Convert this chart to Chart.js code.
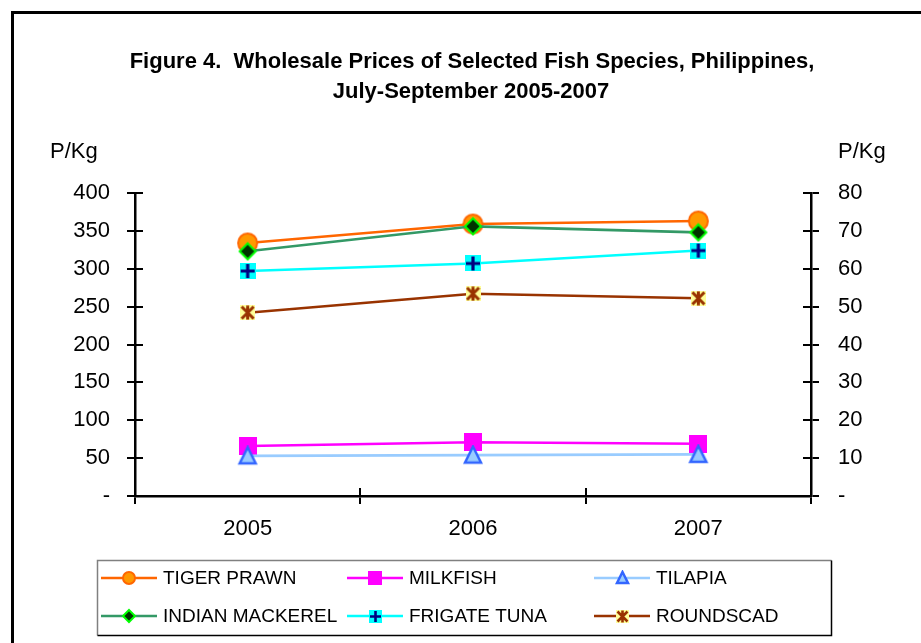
<!DOCTYPE html>
<html><head><meta charset="utf-8">
<script src="https://cdn.jsdelivr.net/npm/chart.js@4.4.0/dist/chart.umd.min.js"></script>
<style>html,body{margin:0;padding:0;background:#fff;}canvas{display:block;}</style>
</head><body>
<canvas id="c" width="921" height="643"></canvas>
<script>
// ---- data ----
const categories = ['2005', '2006', '2007'];
const tigerPrawn = [334, 359, 363];
const milkfish = [66, 71, 69];
const tilapia = [53, 54, 55];
const indianMackerel = [323, 356, 348];
const frigateTuna = [297, 307, 324];
const roundscad = [242, 267, 261];
const leftTickLabels = ['-', '50', '100', '150', '200', '250', '300', '350', '400'];
const rightTickLabels = ['-', '10', '20', '30', '40', '50', '60', '70', '80'];
const seriesNames = ['TIGER PRAWN', 'MILKFISH', 'TILAPIA', 'INDIAN MACKEREL', 'FRIGATE TUNA', 'ROUNDSCAD'];
const titleLines = ['Figure 4.  Wholesale Prices of Selected Fish Species, Philippines,', 'July-September 2005-2007'];
const axisUnit = 'P/Kg';

const FONT = '"Liberation Sans", Arial, Helvetica, sans-serif';

// ---- marker images ----
function mk(w, h, draw) {
  const c = document.createElement('canvas');
  c.width = w; c.height = h;
  const g = c.getContext('2d');
  draw(g, w / 2, h / 2);
  return c;
}
function circleMarker(r) {
  return mk(Math.ceil(2 * r + 4), Math.ceil(2 * r + 4), (g, cx, cy) => {
    g.beginPath(); g.arc(cx, cy, r, 0, Math.PI * 2);
    g.fillStyle = '#FF9900'; g.fill();
    g.lineWidth = 2; g.strokeStyle = '#FF6600'; g.stroke();
  });
}
function squareMarker(s) {
  return mk(s, s, (g) => { g.fillStyle = '#FF00FF'; g.fillRect(0, 0, s, s); });
}
function triangleMarker(w) {
  const h = Math.round(w * 0.95);
  return mk(w + 4, h + 4, (g, cx, cy) => {
    g.beginPath();
    g.moveTo(cx, cy - h / 2); g.lineTo(cx + w / 2 - 1, cy + h / 2 - 1); g.lineTo(cx - w / 2 + 1, cy + h / 2 - 1); g.closePath();
    g.fillStyle = '#99CCFF'; g.fill();
    g.lineWidth = 2.5; g.lineJoin = 'miter'; g.strokeStyle = '#3366FF'; g.stroke();
  });
}
function diamondMarker(w) {
  return mk(w + 4, w + 4, (g, cx, cy) => {
    const r = w / 2;
    g.beginPath(); g.moveTo(cx, cy - r); g.lineTo(cx + r, cy); g.lineTo(cx, cy + r); g.lineTo(cx - r, cy); g.closePath();
    g.fillStyle = '#003300'; g.fill();
    g.lineWidth = 2; g.strokeStyle = '#00FF00'; g.stroke();
  });
}
function crossMarker(s) {
  return mk(s, s, (g, cx, cy) => {
    g.fillStyle = '#00FFFF'; g.fillRect(0, 0, s, s);
    g.strokeStyle = '#000080'; g.lineWidth = Math.max(2, s / 5);
    g.beginPath(); g.moveTo(cx, 1); g.lineTo(cx, s - 1); g.moveTo(1, cy); g.lineTo(s - 1, cy); g.stroke();
  });
}
function starMarker(s) {
  return mk(s, s, (g, cx, cy) => {
    g.fillStyle = '#FFFF99'; g.fillRect(0, 0, s, s);
    g.strokeStyle = '#993300'; g.lineWidth = Math.max(2, s / 5);
    g.beginPath();
    g.moveTo(cx, 0.5); g.lineTo(cx, s - 0.5);
    g.moveTo(1.5, 1.5); g.lineTo(s - 1.5, s - 1.5);
    g.moveTo(s - 1.5, 1.5); g.lineTo(1.5, s - 1.5);
    g.stroke();
  });
}

const plotMarkers = [circleMarker(9.5), squareMarker(18), triangleMarker(18), diamondMarker(16), crossMarker(16), starMarker(15)];
const legendMarkers = [circleMarker(6), squareMarker(14), triangleMarker(13), diamondMarker(12), crossMarker(13), starMarker(13)];
const lineColors = ['#FF6600', '#FF00FF', '#99CCFF', '#339966', '#00FFFF', '#993300'];
const seriesData = [tigerPrawn, milkfish, tilapia, indianMackerel, frigateTuna, roundscad];

const datasets = seriesData.map((d, i) => ({
  label: seriesNames[i],
  data: d,
  borderColor: lineColors[i],
  backgroundColor: lineColors[i],
  borderWidth: 2.6,
  pointStyle: plotMarkers[i],
  pointRadius: 9,
  pointHoverRadius: 9,
  tension: 0,
  fill: false,
  yAxisID: 'y',
  order: seriesData.length - i
}));

const decor = {
  id: 'decor',
  beforeDraw(chart) {
    const ctx = chart.ctx;
    ctx.save();
    ctx.fillStyle = '#fff'; ctx.fillRect(0, 0, chart.width, chart.height);
    ctx.strokeStyle = '#000'; ctx.lineWidth = 3;
    ctx.beginPath(); ctx.moveTo(12.5, chart.height + 5); ctx.lineTo(12.5, 12.5); ctx.lineTo(chart.width + 5, 12.5); ctx.stroke();
    ctx.restore();
  },
  afterDraw(chart) {
    const ctx = chart.ctx, a = chart.chartArea;
    ctx.save();
    // title
    ctx.fillStyle = '#000';
    ctx.font = 'bold 22px ' + FONT;
    ctx.textAlign = 'center'; ctx.textBaseline = 'middle';
    ctx.fillText(titleLines[0], 472, 62);
    ctx.fillText(titleLines[1], 471, 92);
    // unit labels
    ctx.font = '22px ' + FONT;
    ctx.textAlign = 'left';
    ctx.fillText(axisUnit, 50, 152);
    ctx.fillText(axisUnit, 838, 152);
    // inner halves of tick marks
    ctx.strokeStyle = '#000'; ctx.lineWidth = 2;
    ctx.beginPath();
    const y = chart.scales.y, y2 = chart.scales.y2, x = chart.scales.x;
    y.ticks.forEach(t => { const p = Math.round(y.getPixelForValue(t.value)); ctx.moveTo(a.left, p); ctx.lineTo(a.left + 8, p); });
    y2.ticks.forEach(t => { const p = Math.round(y2.getPixelForValue(t.value)); ctx.moveTo(a.right, p); ctx.lineTo(a.right - 8, p); });
    const n = categories.length;
    for (let i = 0; i <= n; i++) {
      let p;
      if (i === 0) p = a.left; else if (i === n) p = a.right;
      else p = Math.round((x.getPixelForValue(i - 1) + x.getPixelForValue(i)) / 2);
      ctx.moveTo(p, a.bottom); ctx.lineTo(p, a.bottom - 8);
    }
    ctx.stroke();
    // legend box
    const L = 97.5, T = 560.5, R = 831.5, B = 635.5;
    ctx.lineWidth = 1.5;
    ctx.strokeStyle = '#808080';
    ctx.beginPath(); ctx.moveTo(L, B); ctx.lineTo(L, T); ctx.lineTo(R, T); ctx.stroke();
    ctx.strokeStyle = '#000';
    ctx.beginPath(); ctx.moveTo(R, T); ctx.lineTo(R, B); ctx.lineTo(L, B); ctx.stroke();
    const colX = [101, 347, 594], rowY = [578, 616];
    ctx.font = '19px ' + FONT; ctx.textAlign = 'left'; ctx.textBaseline = 'middle'; ctx.fillStyle = '#000';
    chart.data.datasets.forEach((ds, i) => {
      const cx = colX[i % 3], cy = rowY[Math.floor(i / 3)];
      ctx.strokeStyle = ds.borderColor; ctx.lineWidth = 2.5;
      ctx.beginPath(); ctx.moveTo(cx, cy); ctx.lineTo(cx + 56, cy); ctx.stroke();
      const m = legendMarkers[i];
      ctx.drawImage(m, Math.round(cx + 28 - m.width / 2), Math.round(cy - m.height / 2));
      ctx.fillText(ds.label, cx + 62, cy + 1);
    });
    ctx.restore();
  }
};

new Chart(document.getElementById('c'), {
  type: 'line',
  data: { labels: categories, datasets },
  options: {
    responsive: false,
    animation: false,
    devicePixelRatio: 1,
    events: [],
    layout: { padding: { top: 193, left: 0, right: 0, bottom: 0 } },
    plugins: { legend: { display: false }, title: { display: false }, tooltip: { enabled: false } },
    scales: {
      x: {
        type: 'category',
        offset: true,
        grid: { offset: true, display: true, drawOnChartArea: false, drawTicks: true, tickLength: 8, color: '#000', lineWidth: 2 },
        border: { display: true, color: '#000', width: 2.5 },
        ticks: { font: { family: FONT, size: 22 }, color: '#000', padding: 12, maxRotation: 0, autoSkip: false },
        afterFit(s) { s.height = 147; }
      },
      y: {
        position: 'left',
        min: 0, max: 400,
        grid: { display: true, drawOnChartArea: false, drawTicks: true, tickLength: 8, color: '#000', lineWidth: 2 },
        border: { display: true, color: '#000', width: 2.5 },
        ticks: { stepSize: 50, font: { family: FONT, size: 22 }, color: '#000', padding: 17, callback: (v, i) => leftTickLabels[i] },
        afterFit(s) { s.width = 135; }
      },
      y2: {
        position: 'right',
        min: 0, max: 80,
        grid: { display: true, drawOnChartArea: false, drawTicks: true, tickLength: 8, color: '#000', lineWidth: 2 },
        border: { display: true, color: '#000', width: 2.5 },
        ticks: { stepSize: 10, font: { family: FONT, size: 22 }, color: '#000', padding: 19, callback: (v, i) => rightTickLabels[i] },
        afterFit(s) { s.width = 110; }
      }
    }
  },
  plugins: [decor]
});
</script>
</body></html>
